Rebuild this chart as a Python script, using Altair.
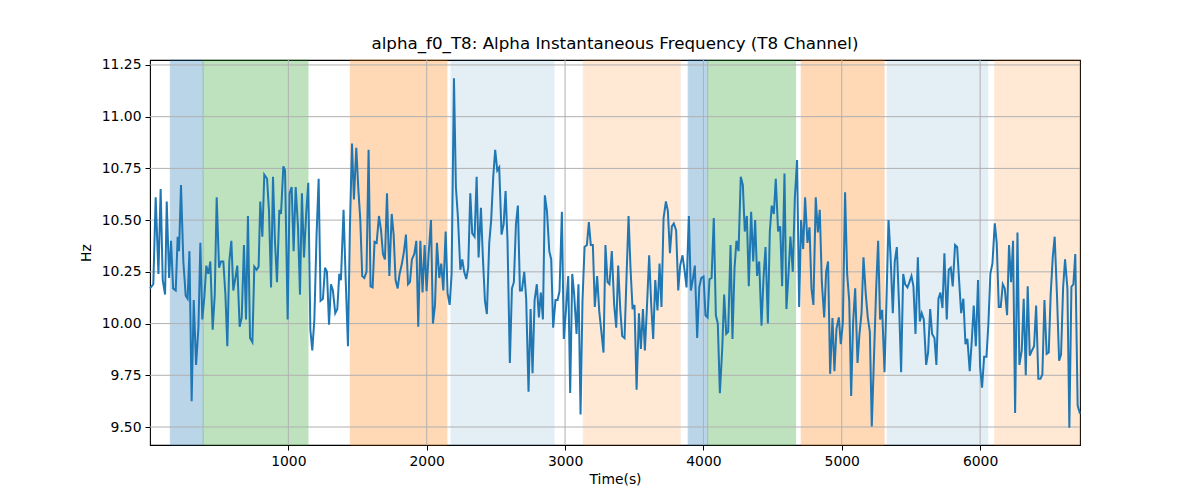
import altair as alt
import pandas as pd

# ---- data ----
times = [0, 24, 41, 61, 77, 92, 109, 121, 138, 152, 167, 186, 200, 210, 224, 241, 258, 272, 285, 301,
         316, 333, 350, 364, 378, 393, 407, 422, 436, 453, 468, 482, 499, 513, 530, 545, 559, 573, 588, 602,
         617, 631, 648, 663, 679, 694, 708, 723, 740, 754, 771, 785, 797, 812, 826, 846, 860, 875, 889, 903,
         918, 935, 947, 964, 976, 995, 1009, 1024, 1038, 1053, 1070, 1084, 1098, 1113, 1130, 1144, 1159, 1173, 1188, 1204,
         1219, 1233, 1250, 1265, 1279, 1294, 1308, 1322, 1339, 1354, 1368, 1380, 1399, 1414, 1431, 1445, 1460, 1474, 1491, 1505,
         1520, 1534, 1549, 1565, 1580, 1594, 1609, 1623, 1638, 1655, 1670, 1684, 1698, 1713, 1730, 1747, 1761, 1775, 1790, 1804,
         1821, 1836, 1850, 1865, 1879, 1893, 1910, 1925, 1939, 1954, 1970, 1985, 1999, 2014, 2031, 2045, 2060, 2074, 2091, 2105,
         2120, 2137, 2151, 2166, 2180, 2197, 2211, 2226, 2243, 2257, 2271, 2286, 2300, 2315, 2329, 2346, 2361, 2375, 2392, 2406,
         2421, 2435, 2452, 2466, 2481, 2495, 2510, 2524, 2541, 2556, 2570, 2584, 2601, 2616, 2630, 2645, 2659, 2674, 2688, 2705,
         2719, 2736, 2751, 2765, 2780, 2796, 2811, 2825, 2840, 2854, 2869, 2886, 2900, 2914, 2931, 2946, 2960, 2977, 2991, 3006,
         3023, 3037, 3052, 3066, 3083, 3097, 3112, 3126, 3141, 3158, 3172, 3186, 3201, 3215, 3232, 3247, 3261, 3278, 3292, 3307,
         3321, 3338, 3355, 3370, 3384, 3399, 3413, 3430, 3445, 3459, 3473, 3488, 3502, 3517, 3534, 3548, 3563, 3577, 3591, 3608,
         3623, 3637, 3652, 3668, 3683, 3697, 3712, 3729, 3743, 3758, 3772, 3786, 3803, 3818, 3832, 3849, 3864, 3878, 3895, 3909,
         3924, 3938, 3955, 3970, 3984, 4001, 4015, 4030, 4044, 4059, 4075, 4090, 4104, 4119, 4136, 4150, 4165, 4179, 4196, 4210,
         4225, 4239, 4254, 4270, 4285, 4299, 4314, 4328, 4345, 4360, 4374, 4388, 4403, 4420, 4434, 4449, 4466, 4480, 4494, 4509,
         4523, 4540, 4555, 4569, 4586, 4600, 4615, 4629, 4646, 4661, 4677, 4692, 4706, 4721, 4735, 4752, 4767, 4781, 4795, 4812,
         4827, 4841, 4856, 4873, 4887, 4901, 4916, 4933, 4947, 4962, 4979, 4993, 5008, 5024, 5039, 5054, 5068, 5082, 5097, 5114,
         5128, 5143, 5157, 5174, 5188, 5203, 5217, 5234, 5249, 5263, 5277, 5292, 5309, 5323, 5338, 5352, 5369, 5383, 5398, 5415,
         5429, 5444, 5458, 5475, 5489, 5504, 5518, 5533, 5550, 5564, 5578, 5593, 5610, 5624, 5639, 5653, 5670, 5684, 5699, 5713,
         5728, 5742, 5759, 5773, 5788, 5802, 5819, 5834, 5848, 5863, 5879, 5894, 5908, 5925, 5940, 5954, 5969, 5985, 6000, 6014,
         6029, 6046, 6060, 6074, 6089, 6106, 6120, 6135, 6149, 6164, 6178, 6195, 6209, 6224, 6238, 6253, 6270, 6284, 6301, 6315,
         6330, 6344, 6359, 6375, 6390, 6405, 6421, 6436, 6450, 6465, 6481, 6496, 6510, 6525, 6539, 6556, 6571, 6585, 6600, 6614,
         6631, 6645, 6660, 6674, 6688, 6705, 6722]
values = [10.17, 10.19, 10.61, 10.24, 10.65, 10.21, 10.14, 10.59, 10.22, 10.40, 10.17, 10.16, 10.42, 10.35, 10.67, 10.30, 10.135, 10.12, 10.35, 9.625,
          10.114, 9.80, 9.98, 10.39, 10.02, 10.13, 10.28, 10.24, 10.30, 9.97, 10.14, 10.61, 10.27, 10.30, 10.30, 10.14, 9.89, 10.30, 10.40, 10.16,
          10.22, 10.28, 9.985, 10.03, 10.38, 10.02, 10.52, 9.93, 9.91, 10.275, 10.26, 10.275, 10.59, 10.42, 10.72, 10.70, 10.545, 10.175, 10.71, 10.40,
          10.20, 10.55, 10.53, 10.76, 10.74, 10.02, 10.63, 10.66, 10.35, 10.66, 10.465, 10.14, 10.63, 10.32, 10.545, 10.68, 9.97, 9.87, 10.02, 10.43,
          10.70, 10.11, 10.12, 10.27, 10.25, 9.995, 10.19, 10.16, 10.05, 10.07, 10.24, 10.21, 10.55, 10.22, 9.89, 10.465, 10.87, 10.60, 10.85, 10.66,
          10.50, 10.23, 10.22, 10.25, 10.84, 10.18, 10.175, 10.395, 10.39, 10.52, 10.45, 10.336, 10.31, 10.63, 10.23, 10.53, 10.43, 10.21, 10.17, 10.24,
          10.29, 10.35, 10.43, 10.19, 10.20, 10.31, 10.336, 10.40, 9.985, 10.40, 10.15, 10.38, 10.156, 10.336, 10.50, 10.00, 10.09, 10.39, 10.22, 10.29,
          10.16, 10.445, 10.146, 10.09, 10.24, 11.186, 10.66, 10.51, 10.26, 10.31, 10.25, 10.215, 10.27, 10.63, 10.436, 10.42, 10.71, 10.32, 10.56, 10.32,
          10.11, 10.046, 10.39, 10.50, 10.71, 10.84, 10.74, 10.755, 10.43, 10.48, 10.64, 10.40, 9.81, 10.17, 10.20, 10.48, 10.57, 10.16, 10.16, 10.25,
          10.12, 9.67, 10.07, 9.76, 10.114, 10.19, 10.03, 10.15, 10.02, 10.62, 10.545, 10.35, 10.31, 9.98, 10.114, 10.114, 10.156, 10.54, 9.926, 10.06,
          10.23, 9.665, 10.24, 10.14, 9.95, 10.19, 9.56, 10.11, 10.37, 10.38, 10.49, 10.38, 10.38, 10.08, 10.23, 10.06, 9.97, 9.86, 10.38, 10.20,
          10.19, 10.35, 10.09, 9.98, 10.28, 10.07, 9.94, 9.93, 10.24, 10.52, 10.27, 10.07, 10.09, 9.68, 10.05, 9.877, 10.07, 9.87, 10.066, 10.33,
          10.087, 9.926, 10.21, 10.063, 10.29, 10.08, 10.51, 10.59, 10.545, 10.34, 10.47, 10.484, 10.45, 10.16, 10.28, 10.33, 10.256, 10.175, 10.52, 10.16,
          10.215, 10.28, 9.93, 10.175, 10.22, 10.227, 10.04, 10.03, 10.215, 10.22, 10.51, 10.04, 10.00, 9.663, 9.877, 10.14, 9.95, 9.96, 10.38, 9.926,
          10.27, 10.40, 10.35, 10.71, 10.67, 10.445, 10.52, 10.18, 10.54, 10.30, 10.50, 10.23, 10.30, 9.99, 10.215, 10.37, 10.00, 10.445, 10.57, 10.53,
          10.70, 10.445, 10.47, 10.18, 10.725, 10.07, 10.24, 10.42, 10.25, 10.61, 10.79, 10.08, 10.50, 10.36, 10.61, 10.39, 10.465, 10.17, 10.09, 10.61,
          10.44, 10.55, 10.20, 10.03, 10.25, 10.30, 9.757, 10.027, 9.77, 9.976, 10.03, 9.90, 10.006, 10.635, 10.24, 10.11, 9.65, 10.006, 10.17, 9.81,
          9.95, 10.05, 10.32, 10.14, 10.03, 9.96, 9.503, 9.86, 10.175, 10.40, 10.02, 10.066, 9.765, 10.11, 10.50, 10.336, 10.05, 10.30, 10.37, 10.075,
          9.765, 10.24, 10.19, 10.175, 10.20, 10.23, 10.18, 9.95, 10.32, 10.01, 10.05, 10.02, 9.80, 9.86, 10.07, 9.95, 9.93, 9.80, 10.12, 10.15,
          10.075, 10.34, 10.02, 10.26, 10.27, 10.18, 10.38, 10.37, 10.21, 10.05, 10.12, 9.90, 9.926, 9.77, 9.92, 10.087, 9.89, 10.21, 9.79, 9.69,
          9.84, 9.84, 10.00, 10.24, 10.29, 10.485, 10.39, 10.08, 10.08, 10.19, 10.17, 10.04, 10.38, 10.20, 10.40, 9.568, 10.44, 9.80, 9.87, 10.12,
          9.75, 10.18, 9.845, 9.87, 9.89, 10.087, 9.733, 9.733, 9.754, 10.114, 9.853, 9.86, 10.14, 10.32, 10.42, 10.13, 9.82, 9.85, 10.175, 10.31,
          10.17, 9.496, 10.178, 10.19, 10.336, 9.604, 9.564]

span_start = [147, 384, 1448, 2176, 3132, 3890, 4031, 4707, 5328, 6106]
span_end = [384, 1142, 2146, 2920, 3832, 4031, 4666, 5306, 6055, 6722]
span_color = ["#1f77b4", "#2ca02c", "#ff7f0e", "#1f77b4", "#ff7f0e",
              "#1f77b4", "#2ca02c", "#ff7f0e", "#1f77b4", "#ff7f0e"]
span_alpha = [0.3, 0.3, 0.3, 0.12, 0.17, 0.3, 0.3, 0.3, 0.12, 0.17]

x_ticks = [1000, 2000, 3000, 4000, 5000, 6000]
y_ticks = [9.5, 9.75, 10.0, 10.25, 10.5, 10.75, 11.0, 11.25]

x_domain = [0, 6722]
y_domain = [9.413, 11.274]

df = pd.DataFrame({"t": times, "v": values})
spans = pd.DataFrame({"t": span_start, "end": span_end, "color": span_color, "alpha": span_alpha})
xg = pd.DataFrame({"t": x_ticks})
yg = pd.DataFrame({"v": y_ticks})

FONT = "DejaVu Sans"
xs = alt.Scale(domain=x_domain, nice=False, zero=False)
ys = alt.Scale(domain=y_domain, nice=False, zero=False)

x_axis = alt.Axis(values=x_ticks, format="d", grid=False, domain=False,
                  tickColor="black", tickSize=5, tickWidth=1, labelPadding=4,
                  labelFont=FONT, labelFontSize=13.9, labelColor="black",
                  titleFont=FONT, titleFontSize=13.9, titleFontWeight="normal",
                  titleColor="black", titlePadding=5, labelFlush=False)
y_axis = alt.Axis(values=y_ticks, format=".2f", grid=False, domain=False,
                  tickColor="black", tickSize=5, tickWidth=1, labelPadding=4,
                  labelFont=FONT, labelFontSize=13.9, labelColor="black",
                  titleFont=FONT, titleFontSize=13.9, titleFontWeight="normal",
                  titleColor="black", titlePadding=8, labelFlush=False)

X = lambda f: alt.X(f, scale=xs, title="Time(s)", axis=x_axis)
Y = lambda f: alt.Y(f, scale=ys, title="Hz", axis=y_axis)

span_layer = alt.Chart(spans).mark_rect(strokeWidth=1).encode(
    x=X("t:Q"),
    x2="end:Q",
    color=alt.Color("color:N", scale=None),
    stroke=alt.Stroke("color:N", scale=None),
    opacity=alt.Opacity("alpha:Q", scale=None),
)

xgrid = alt.Chart(xg).mark_rule(color="#b0b0b0", strokeWidth=1).encode(x=X("t:Q"))
ygrid = alt.Chart(yg).mark_rule(color="#b0b0b0", strokeWidth=1).encode(y=Y("v:Q"))

line = alt.Chart(df).mark_line(color="#1f77b4", strokeWidth=2).encode(
    x=X("t:Q"),
    y=Y("v:Q"),
)

chart = alt.layer(span_layer, xgrid, ygrid, line).properties(
    width=930,
    height=385,
    autosize=alt.AutoSizeParams(type="none"),
    padding={"left": 142, "top": 52, "right": 100, "bottom": 50},
    title=alt.TitleParams("alpha_f0_T8: Alpha Instantaneous Frequency (T8 Channel)",
                          font=FONT, fontSize=16.7, fontWeight="normal", color="black",
                          anchor="middle", offset=5),
).configure_view(stroke="black", strokeWidth=1.1)

chart.save("out.html", embed_options={"renderer": "svg", "actions": False})
